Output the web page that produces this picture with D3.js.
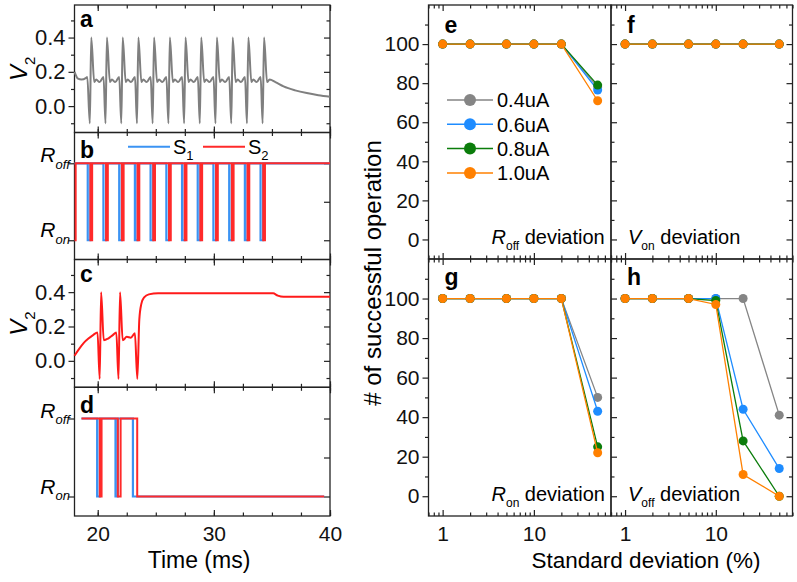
<!DOCTYPE html>
<html>
<head>
<meta charset="utf-8">
<script src="https://cdn.jsdelivr.net/npm/d3@7"></script>
<style>
  body { margin: 0; background: #fff; }
  svg { font-family: "Liberation Sans", Arial, sans-serif; }
</style>
</head>
<body>
<svg id="chart" width="797" height="582"></svg>
<script>
/* DATA */
const timeMajor = [20, 30, 40];
const timeMinor = [20, 22.5, 25, 27.5, 30, 32.5, 35, 37.5, 40];
const v2Major = [0.0, 0.2, 0.4];
const v2Minor = [-0.1, 0.1, 0.3, 0.5];

// panel a : V2 (gray), [time ms, V]
const traceA = [
  [18.0,0.20],[18.3,0.16],[18.6,0.155],[19.0,0.165],[19.1,0.17],
  [19.32,-0.10],[19.44,0.40],[19.70,0.14],[19.87,0.155],[20.16,0.14],[20.50,0.17],
  [20.67,-0.10],[20.79,0.40],[21.05,0.14],[21.22,0.155],[21.51,0.14],[21.85,0.17],
  [22.03,-0.10],[22.15,0.40],[22.41,0.14],[22.58,0.155],[22.87,0.14],[23.21,0.17],
  [23.38,-0.10],[23.50,0.40],[23.76,0.14],[23.93,0.155],[24.22,0.14],[24.56,0.17],
  [24.73,-0.10],[24.85,0.40],[25.11,0.14],[25.28,0.155],[25.57,0.14],[25.91,0.17],
  [26.09,-0.10],[26.21,0.40],[26.47,0.14],[26.64,0.155],[26.93,0.14],[27.27,0.17],
  [27.44,-0.10],[27.56,0.40],[27.82,0.14],[27.99,0.155],[28.28,0.14],[28.62,0.17],
  [28.79,-0.10],[28.91,0.40],[29.17,0.14],[29.34,0.155],[29.63,0.14],[29.97,0.17],
  [30.14,-0.10],[30.26,0.40],[30.52,0.14],[30.69,0.155],[30.98,0.14],[31.32,0.17],
  [31.50,-0.10],[31.62,0.40],[31.88,0.14],[32.05,0.155],[32.34,0.14],[32.68,0.17],
  [32.85,-0.10],[32.97,0.40],[33.23,0.14],[33.40,0.155],[33.69,0.14],[34.03,0.17],
  [34.20,-0.10],[34.32,0.40],[34.58,0.14],[34.80,0.155],[35.3,0.14],[36.0,0.115],
  [37.0,0.092],[38.0,0.076],[39.0,0.064],[40.0,0.055]
];

// panel b : switch states (1 = Roff, 0 = Ron)
const s1B = [[18,1],[19.14,0],[19.37,1],[20.49,0],[20.72,1],[21.85,0],[22.08,1],[23.20,0],[23.43,1],
  [24.55,0],[24.78,1],[25.91,0],[26.14,1],[27.26,0],[27.49,1],[28.61,0],[28.84,1],[29.96,0],[30.19,1],
  [31.32,0],[31.55,1],[32.67,0],[32.90,1],[34.02,0],[34.25,1],[40,1]];
const s2B = [[18,0],[18.1,1],[19.37,0],[19.52,1],[20.72,0],[20.87,1],[22.08,0],[22.23,1],[23.43,0],[23.58,1],
  [24.78,0],[24.93,1],[26.14,0],[26.29,1],[27.49,0],[27.64,1],[28.84,0],[28.99,1],[30.19,0],[30.34,1],
  [31.55,0],[31.70,1],[32.90,0],[33.05,1],[34.25,0],[34.40,1],[40,1]];

// panel c : V2 (red)
const traceC = [
  [18.0,0.03],[18.4,0.07],[18.8,0.105],[19.2,0.13],[19.6,0.15],[19.98,0.165],
  [20.17,-0.105],[20.29,0.40],[20.52,0.12],[20.9,0.13],[21.3,0.15],[21.6,0.165],
  [21.79,-0.105],[21.92,0.40],[22.15,0.12],[22.5,0.14],[22.85,0.135],[23.2,0.16],
  [23.41,-0.105],[23.58,0.24],[23.75,0.33],[24.0,0.37],[24.4,0.387],[25.2,0.393],
  [35.1,0.393],[35.5,0.38],[36.0,0.373],[40.0,0.373]
];

// panel d : switch states
const s1D = [[18.6,1],[19.95,0],[20.18,1],[21.53,0],[21.73,1],[23.03,0],[39.5,0]];
const s2D = [[18.6,1],[20.18,0],[20.33,1],[21.73,0],[21.97,1],[23.40,0],[39.5,0]];

// panels e-h : # of successful operation vs standard deviation (%)
const devPct = [1, 2, 5, 10, 20, 50];
const devMajor = [1, 10];
const devMinor = [0.7, 0.8, 0.9, 2, 3, 4, 5, 6, 7, 8, 9, 20, 30, 40, 50, 60, 70];
const pctMajor = [0, 20, 40, 60, 80, 100];
const pctMinor = [10, 30, 50, 70, 90, 110];
const currents = ["0.4uA", "0.6uA", "0.8uA", "1.0uA"];
const colors = ["#858585", "#1e8cff", "#0b7d0b", "#ff8000"];

const roffDev = [
  [100, 100, 100, 100, 100, 78],
  [100, 100, 100, 100, 100, 76.5],
  [100, 100, 100, 100, 100, 79],
  [100, 100, 100, 100, 100, 71]
];
const vonDev = [
  [100, 100, 100, 100, 100, 100],
  [100, 100, 100, 100, 100, 100],
  [100, 100, 100, 100, 100, 100],
  [100, 100, 100, 100, 100, 100]
];
const ronDev = [
  [100, 100, 100, 100, 100, 50],
  [100, 100, 100, 100, 100, 43],
  [100, 100, 100, 100, 100, 25],
  [100, 100, 100, 100, 100, 22]
];
const voffDev = [
  [100, 100, 100, 100, 100, 41],
  [100, 100, 100, 100, 44, 14],
  [100, 100, 100, 99, 28, 0],
  [100, 100, 100, 97, 11, 0]
];

/* SETUP */
const svg = d3.select("#chart");
const ink = "#222";
const tickFont = "21px";

function ax(gen, tx, ty, fs) {
  const g = svg.append("g").attr("transform", `translate(${tx},${ty})`).call(gen);
  g.select(".domain").remove();
  g.selectAll("line").attr("stroke", ink).attr("stroke-width", 1.2);
  g.selectAll("text").attr("fill", "#111").style("font-size", fs || tickFont)
    .style("font-family", "'Liberation Sans', Arial, sans-serif");
  return g;
}

function frame(x0, y0, x1, y1) {
  svg.append("rect")
    .attr("x", x0).attr("y", y0)
    .attr("width", x1 - x0).attr("height", y1 - y0)
    .attr("fill", "none").attr("stroke", ink).attr("stroke-width", 1.3);
}

function letter(txt, x, y) {
  svg.append("text").attr("x", x).attr("y", y)
    .style("font-size", "23px").style("font-weight", "bold").text(txt);
}

// rich text: main + subscript
function subText(x, y, main, sub, opts) {
  const t = svg.append("text").attr("x", x).attr("y", y)
    .attr("text-anchor", opts.anchor || "start")
    .style("font-size", opts.size + "px");
  if (opts.transform) t.attr("transform", opts.transform).attr("x", 0).attr("y", 0);
  t.append("tspan").style("font-style", opts.italic ? "italic" : "normal").text(main);
  t.append("tspan").attr("dy", opts.size * 0.32).style("font-size", opts.subSize + "px")
    .style("font-style", opts.subItalic ? "italic" : "normal").text(sub);
  if (opts.rest) t.append("tspan").attr("dy", -opts.size * 0.32).text(opts.rest);
  return t;
}

/* LEFT COLUMN (a-d) */
const xTime = d3.scaleLinear().domain([18, 40]).range([74.5, 330]);
const rowTop = [5, 132.5, 259.5, 387.3, 516];
const yV = i => d3.scaleLinear().domain([-0.154, 0.59]).range([rowTop[i + 1], rowTop[i]]);
const yS = i => d3.scaleLinear().domain([-0.25, 1.4]).range([rowTop[i + 1], rowTop[i]]);

for (let i = 0; i < 4; i++) {
  frame(74.5, rowTop[i], 330, rowTop[i + 1]);
  ax(d3.axisTop(xTime).tickValues(timeMinor).tickSize(-3.5).tickFormat(""), 0, rowTop[i]);
  ax(d3.axisTop(xTime).tickValues(timeMajor).tickSize(-6).tickFormat(""), 0, rowTop[i]);
  ax(d3.axisBottom(xTime).tickValues(timeMinor).tickSize(-3.5).tickFormat(""), 0, rowTop[i + 1]);
  const bot = d3.axisBottom(xTime).tickValues(timeMajor).tickSize(-6).tickPadding(10);
  if (i < 3) bot.tickFormat("");
  ax(bot, 0, rowTop[i + 1], "21px");
}

// a & c : voltage panels
[0, 2].forEach(i => {
  const y = yV(i);
  ax(d3.axisLeft(y).tickValues(v2Major).tickSize(6).tickPadding(3).tickFormat(d3.format(".1f")), 74.5, 0, "22px");
  ax(d3.axisLeft(y).tickValues(v2Minor).tickSize(3.5).tickFormat(""), 74.5, 0);
  ax(d3.axisRight(y).tickValues(v2Major).tickSize(-6).tickFormat(""), 330, 0);
  ax(d3.axisRight(y).tickValues(v2Minor).tickSize(-3.5).tickFormat(""), 330, 0);
  const cy = y(0.2) - 3;
  subText(0, 0, "V", "2", { size: 24, subSize: 15, italic: true, anchor: "middle",
    transform: `translate(27,${cy}) rotate(-90)` });
});

// b & d : state panels
[1, 3].forEach(i => {
  const y = yS(i);
  ax(d3.axisLeft(y).tickValues([0, 1]).tickSize(6).tickFormat(""), 74.5, 0);
  ax(d3.axisRight(y).tickValues([0, 0.5, 1]).tickSize(-6).tickFormat(""), 330, 0);
  subText(70, y(1) - 1, "R", "off", { size: 21, subSize: 13, italic: true, subItalic: true, anchor: "end" });
  subText(70, y(0) - 3, "R", "on", { size: 21, subSize: 13, italic: true, subItalic: true, anchor: "end" });
});

const lineA = d3.line().x(d => xTime(d[0])).y(d => yV(0)(d[1])).curve(d3.curveMonotoneX);
svg.append("path").datum(traceA).attr("d", lineA)
  .attr("fill", "none").attr("stroke", "#7f7f7f").attr("stroke-width", 2);

const lineC = d3.line().x(d => xTime(d[0])).y(d => yV(2)(d[1])).curve(d3.curveMonotoneX);
svg.append("path").datum(traceC).attr("d", lineC)
  .attr("fill", "none").attr("stroke", "#ff1a1a").attr("stroke-width", 2);

const blueS = "#3b93f3", redS = "#ff2a2a";
[[1, s1B, s2B], [3, s1D, s2D]].forEach(([i, s1, s2]) => {
  const step = d3.line().x(d => xTime(d[0])).y(d => yS(i)(d[1])).curve(d3.curveStepAfter);
  svg.append("path").datum(s1).attr("d", step)
    .attr("fill", "none").attr("stroke", blueS).attr("stroke-width", 2.2);
  svg.append("path").datum(s2).attr("d", step)
    .attr("fill", "none").attr("stroke", redS).attr("stroke-width", 2);
});

// legend in b
const legY = 146.7;
[[128, 170, blueS, "1"], [203, 245, redS, "2"]].forEach(([x0, x1, c, n]) => {
  svg.append("line").attr("x1", x0).attr("x2", x1).attr("y1", legY).attr("y2", legY)
    .attr("stroke", c).attr("stroke-width", 2);
  subText(x1 + 3, legY + 7, "S", n, { size: 20, subSize: 13 });
});

letter("a", 80, 27);
letter("b", 80, 158);
letter("c", 80, 282);
letter("d", 80, 413);

svg.append("text").attr("x", 199).attr("y", 568).attr("text-anchor", "middle")
  .style("font-size", "23px").text("Time (ms)");

/* RIGHT COLUMN (e-h) */
const xDev = [
  d3.scaleLog().domain([0.7, 70]).range([428.5, 611]),
  d3.scaleLog().domain([0.7, 70]).range([611, 792.5])
];
const rTop = [5, 259, 516];
const yPct = r => d3.scaleLinear().domain([-10, 120]).range([rTop[r + 1], rTop[r]]);

const panels = [
  { r: 0, c: 0, data: roffDev, name: "e", lab: ["R", "off"] },
  { r: 0, c: 1, data: vonDev,  name: "f", lab: ["V", "on"] },
  { r: 1, c: 0, data: ronDev,  name: "g", lab: ["R", "on"] },
  { r: 1, c: 1, data: voffDev, name: "h", lab: ["V", "off"] }
];

panels.forEach(p => {
  const x = xDev[p.c], y = yPct(p.r);
  const [x0, x1] = x.range();
  const y0 = rTop[p.r], y1 = rTop[p.r + 1];
  frame(x0, y0, x1, y1);

  ax(d3.axisTop(x).tickValues(devMinor).tickSize(-3.5).tickFormat(""), 0, y0);
  ax(d3.axisTop(x).tickValues(devMajor).tickSize(-6).tickFormat(""), 0, y0);
  ax(d3.axisBottom(x).tickValues(devMinor).tickSize(-3.5).tickFormat(""), 0, y1);
  const bot = d3.axisBottom(x).tickValues(devMajor).tickSize(-6).tickPadding(10).tickFormat(d3.format("d"));
  if (p.r === 0) bot.tickFormat("");
  ax(bot, 0, y1, "21px");

  if (p.c === 0) {
    ax(d3.axisLeft(y).tickValues(pctMajor).tickSize(6).tickPadding(3), x0, 0);
    ax(d3.axisLeft(y).tickValues(pctMinor).tickSize(3.5).tickFormat(""), x0, 0);
  } else {
    ax(d3.axisRight(y).tickValues(pctMajor).tickSize(6).tickFormat(""), x0, 0);
    ax(d3.axisRight(y).tickValues(pctMinor).tickSize(3.5).tickFormat(""), x0, 0);
    ax(d3.axisLeft(y).tickValues(pctMajor).tickSize(6).tickFormat(""), x1, 0);
    ax(d3.axisLeft(y).tickValues(pctMinor).tickSize(3.5).tickFormat(""), x1, 0);
  }

  const line = d3.line().x((d, j) => x(devPct[j])).y(d => y(d));
  p.data.forEach((vals, k) => {
    const g = svg.append("g");
    g.append("path").datum(vals).attr("d", line)
      .attr("fill", "none").attr("stroke", colors[k]).attr("stroke-width", 1.3);
    g.selectAll("circle").data(vals).join("circle")
      .attr("cx", (d, j) => x(devPct[j])).attr("cy", d => y(d))
      .attr("r", 4.5).attr("fill", colors[k]);
  });

  letter(p.name, x0 + (p.c === 0 ? 16 : 16), y0 + (p.r === 0 ? 28 : 26));
  subText(x0 + (p.c === 0 ? 63 : 17), y1 - 15, p.lab[0], p.lab[1],
    { size: 20, subSize: 12, italic: true, rest: " deviation" });
});

// legend in e
const legRows = [100, 124.3, 148.6, 173];
currents.forEach((c, k) => {
  svg.append("line").attr("x1", 447).attr("x2", 493)
    .attr("y1", legRows[k]).attr("y2", legRows[k])
    .attr("stroke", colors[k]).attr("stroke-width", 1.5);
  svg.append("circle").attr("cx", 470).attr("cy", legRows[k]).attr("r", 6).attr("fill", colors[k]);
  svg.append("text").attr("x", 497).attr("y", legRows[k]).attr("dy", "0.36em")
    .style("font-size", "20px").text(c);
});

svg.append("text").attr("transform", "translate(381,273) rotate(-90)")
  .attr("text-anchor", "middle").style("font-size", "24px")
  .text("# of successful operation");
svg.append("text").attr("x", 646).attr("y", 568).attr("text-anchor", "middle")
  .style("font-size", "22.5px").text("Standard deviation (%)");
</script>
</body>
</html>
